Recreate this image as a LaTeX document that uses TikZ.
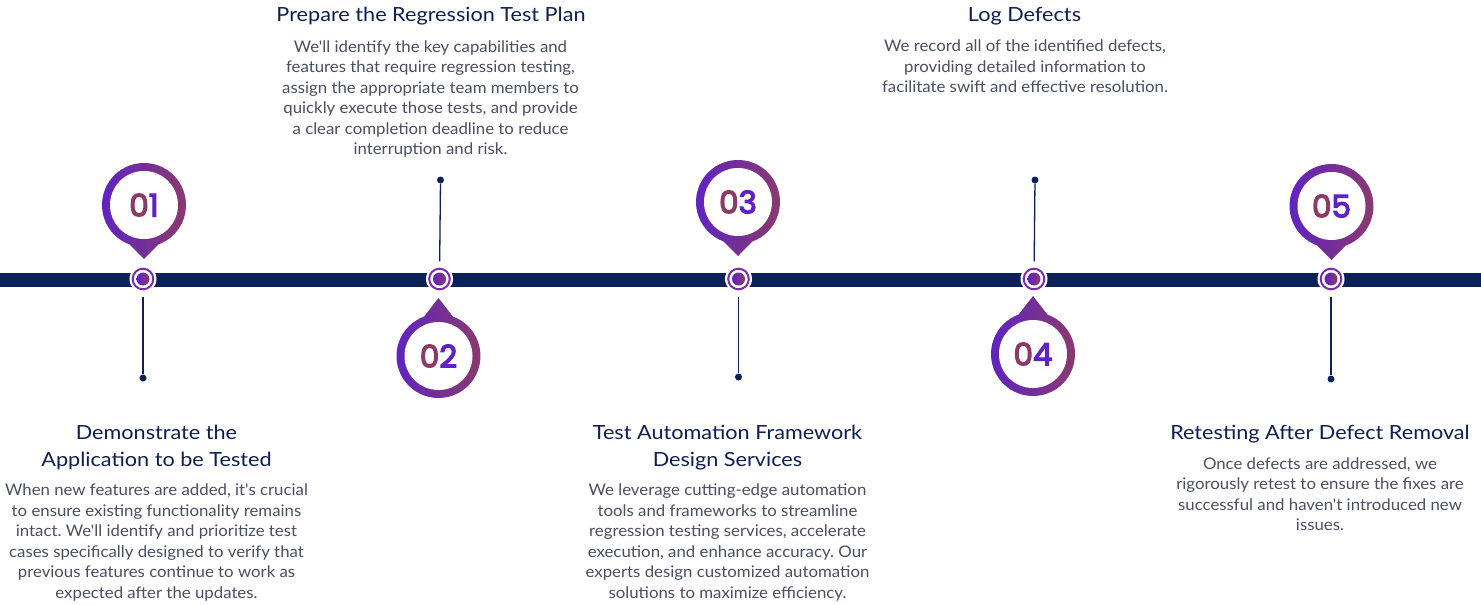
\documentclass[tikz,border=0pt]{standalone}
\usepackage{fontspec}
\setmainfont{Lato}[Ligatures=TeXOff]
\newfontfamily\titlefont{Lato}[Ligatures=TeXOff, FakeStretch=1.11]
\newfontfamily\bodyfont{Lato}[Ligatures=TeXOff, FakeStretch=1.05]
\newfontfamily\numfont{Poppins}[FakeBold=4]
\usetikzlibrary{calc}
\frenchspacing
\definecolor{navy}{HTML}{0B2158}
\definecolor{titlec}{HTML}{0F1F50}
\definecolor{bodyc}{HTML}{4A4F62}
\definecolor{pinA}{HTML}{5E22C6}
\definecolor{pinB}{HTML}{8C3B68}
\definecolor{ringc}{HTML}{7A2FA6}
\newcommand\pindown[3]{%
  \shade[left color=pinA, right color=pinB] ($(#2)+(0,54)$) -- ($(#2)+(70:42)$) arc[start angle=70, end angle=-250, radius=42] -- cycle;
  \fill[white] (#2) circle (34);
  \node[numtext] (#1) at (#2) {\textcolor{pinB}{0}\textcolor{pinA}{#3}};}
\newcommand\pinup[3]{%
  \shade[left color=pinA, right color=pinB] ($(#2)+(0,-58)$) -- ($(#2)+(-70:42)$) arc[start angle=-70, end angle=250, radius=42] -- cycle;
  \fill[white] (#2) circle (34);
  \node[numtext] (#1) at (#2) {\textcolor{pinB}{0}\textcolor{pinA}{#3}};}
\newcommand\marker[2]{%
  \node[markerbox] (#1) at (#2) {};
  \draw[ringc, line width=2pt] (#1.center) circle (10.3);
  \shade[left color=pinA, right color=pinB] (#1.center) circle (6.5);}
\begin{document}
\begin{tikzpicture}[x=1pt,y=-1pt,
  titletext/.style={font=\titlefont\fontsize{19.5}{27.5}\selectfont, text=titlec, align=center, inner sep=0pt, anchor=north},
  bodytext/.style={font=\bodyfont\fontsize{16}{20.5}\selectfont, text=bodyc, align=center, inner sep=0pt, anchor=north},
  numtext/.style={font=\numfont\fontsize{31}{31}\selectfont, inner sep=0pt},
  markerbox/.style={circle, fill=white, minimum size=27pt, inner sep=0pt},
  enddot/.style={circle, fill=navy, minimum size=7pt, inner sep=0pt},
  stem/.style={draw=navy, line width=1.3pt}]
\useasboundingbox (0,0) rectangle (1481,605);
\fill[white] (0,0) rectangle (1481,605);
\fill[navy] (0,272.5) rectangle (1481,286.5);

% markers on the line
\marker{m1}{143,279}
\marker{m2}{439.5,279}
\marker{m3}{738.5,279}
\marker{m4}{1034,279}
\marker{m5}{1331,279}

% stems and end dots
\node[enddot] (d1) at (143,378) {};
\node[enddot] (d2) at (440.5,180) {};
\node[enddot] (d3) at (738.5,377) {};
\node[enddot] (d4) at (1035,180) {};
\node[enddot] (d5) at (1331,379) {};
\draw[stem, shorten <=4pt] (m1) -- (d1);
\draw[stem, shorten >=4pt] (d2) -- (m2);
\draw[stem, shorten <=4pt] (m3) -- (d3);
\draw[stem, shorten >=4pt] (d4) -- (m4);
\draw[stem, shorten <=4pt] (m5) -- (d5);

% pins
\pindown{p1}{144,205}{1}
\pinup{p2}{438.5,356}{2}
\pindown{p3}{738,202}{3}
\pinup{p4}{1033,354}{4}
\pindown{p5}{1331.5,206}{5}

% texts
\node[titletext] (t2) at (431,7) {Prepare the Regression Test Plan};
\node[bodytext] (b2) at (430.5,40.5) {We'll identify the key capabilities and\\features that require regression testing,\\assign the appropriate team members to\\quickly execute those tests, and provide\\a clear completion deadline to reduce\\interruption and risk.};

\node[titletext] (t4) at (1024.5,7.5) {Log Defects};
\node[bodytext] (b4) at (1025,40) {We record all of the identified defects,\\providing detailed information to\\facilitate swift and effective resolution.};

\node[titletext] (t1) at (156.5,424.5) {Demonstrate the\\Application to be Tested};
\node[bodytext] (b1) at (156.5,484) {When new features are added, it's crucial\\to ensure existing functionality remains\\intact. We'll identify and prioritize test\\cases specifically designed to verify that\\previous features continue to work as\\expected after the updates.};

\node[titletext] (t3) at (727.5,424.5) {Test Automation Framework\\Design Services};
\node[bodytext] (b3) at (727.5,484) {We leverage cutting-edge automation\\tools and frameworks to streamline\\regression testing services, accelerate\\execution, and enhance accuracy. Our\\experts design customized automation\\solutions to maximize efficiency.};

\node[titletext] (t5) at (1320,425) {Retesting After Defect Removal};
\node[bodytext] (b5) at (1320,457.5) {Once defects are addressed, we\\rigorously retest to ensure the fixes are\\successful and haven't introduced new\\issues.};
\end{tikzpicture}
\end{document}
